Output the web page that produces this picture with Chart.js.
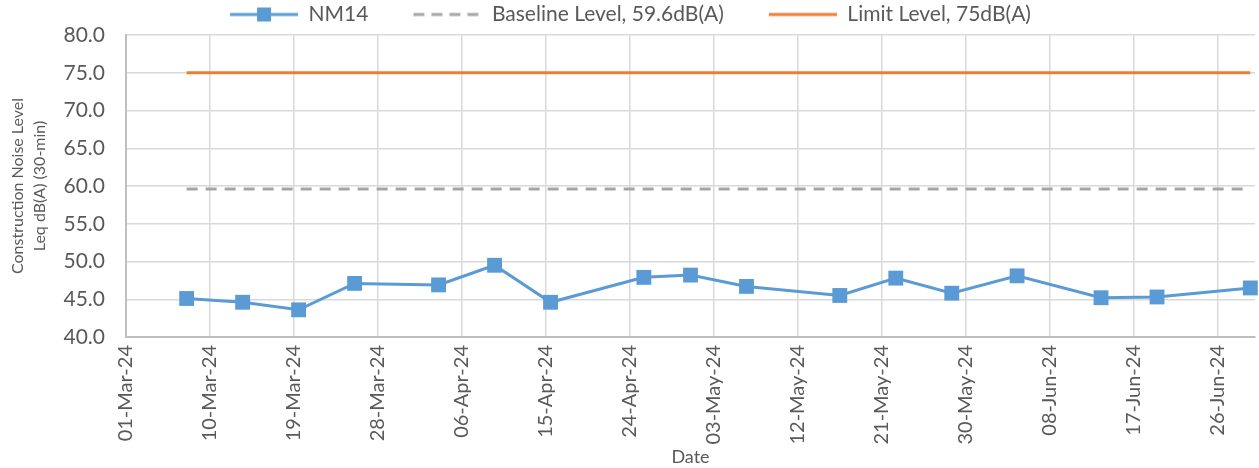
<!DOCTYPE html>
<html>
<head>
<meta charset="utf-8">
<script src="https://cdn.jsdelivr.net/npm/chart.js@4.4.1/dist/chart.umd.min.js"></script>
<style>
  html, body { margin: 0; padding: 0; background: #fff; }
  #wrap { width: 1259px; height: 468px; }
</style>
</head>
<body>
<div id="wrap"><canvas id="chart"></canvas></div>
<script>
// Measurement dates and NM14 readings, Leq dB(A) 30-min
const sampleDates = ['2024-03-07', '2024-03-13', '2024-03-19', '2024-03-25', '2024-04-03', '2024-04-09',
  '2024-04-15', '2024-04-25', '2024-04-30', '2024-05-06', '2024-05-16', '2024-05-22', '2024-05-28',
  '2024-06-04', '2024-06-13', '2024-06-19', '2024-06-29'];
const nm14Values = [45.1, 44.6, 43.6, 47.1, 46.9, 49.5, 44.6, 47.9, 48.2, 46.7, 45.5, 47.8, 45.8,
  48.1, 45.2, 45.3, 46.5];
const baselineLevel = 59.6;
const limitLevel = 75;

// Axis ticks
const xTickLabels = ['01-Mar-24', '10-Mar-24', '19-Mar-24', '28-Mar-24', '06-Apr-24', '15-Apr-24', '24-Apr-24',
  '03-May-24', '12-May-24', '21-May-24', '30-May-24', '08-Jun-24', '17-Jun-24', '26-Jun-24'];
const yTicks = [40, 45, 50, 55, 60, 65, 70, 75, 80];
const axisStart = '2024-03-01';
const axisEnd = '2024-06-30';

const BLUE = '#5b9bd5';
const GREY = '#a5a5a5';
const ORANGE = '#ed7d31';
const TEXT = '#595959';
const MONTHS = ['Jan','Feb','Mar','Apr','May','Jun','Jul','Aug','Sep','Oct','Nov','Dec'];

function dayNum(iso){
  const [y, m, d] = iso.split('-').map(Number);
  return Date.UTC(y, m - 1, d) / 86400000;
}
function labelDay(lbl){
  const [d, mon, yy] = lbl.split('-');
  return Date.UTC(2000 + Number(yy), MONTHS.indexOf(mon), Number(d)) / 86400000;
}
const x0 = dayNum(axisStart);
// Excel date axis puts each point in the middle of its day
const xOf = iso => dayNum(iso) - x0 + 0.5;
const tickMap = {};
xTickLabels.forEach(l => { tickMap[labelDay(l) - x0] = l; });

const firstX = xOf(sampleDates[0]);
const lastX = xOf(sampleDates[sampleDates.length - 1]);

// legend icons (line sample on the right, blank gap on the left as item spacing)
const GAP = 38, SAMPLE = 68;
function makeIcon(color, dash, marker){
  const c = document.createElement('canvas');
  c.width = GAP + SAMPLE; c.height = 18;
  const g = c.getContext('2d');
  g.strokeStyle = color; g.lineWidth = 3;
  g.setLineDash(dash);
  g.beginPath(); g.moveTo(GAP, 9); g.lineTo(GAP + SAMPLE, 9); g.stroke();
  if (marker){ g.fillStyle = color; g.fillRect(GAP + 27, 2, 14, 14); }
  return c;
}
const icons = [makeIcon(BLUE, [], true), makeIcon(GREY, [11, 7], false), makeIcon(ORANGE, [], false)];

// the blank gap before the first icon pushes the legend right; pull it back
const legendShift = {
  id: 'legendShift',
  afterLayout(chart){
    if (chart.legend){ chart.legend.left -= 16; chart.legend.right -= 16; }
  }
};

Chart.defaults.font.family = 'Lato';
Chart.defaults.color = TEXT;

new Chart(document.getElementById('chart'), {
  type: 'line',
  plugins: [legendShift],
  data: {
    datasets: [
      {
        label: 'NM14',
        data: sampleDates.map((d, i) => ({ x: xOf(d), y: nm14Values[i] })),
        borderColor: BLUE,
        backgroundColor: BLUE,
        borderWidth: 3,
        pointStyle: 'rect',
        pointRadius: 10.5,
        pointBorderWidth: 0,
        clip: false,
        order: 0
      },
      {
        label: 'Baseline Level, 59.6dB(A)',
        data: [{ x: firstX, y: baselineLevel }, { x: lastX, y: baselineLevel }],
        borderColor: GREY,
        backgroundColor: GREY,
        borderWidth: 3,
        borderDash: [11, 8],
        pointRadius: 0,
        order: 1
      },
      {
        label: 'Limit Level, 75dB(A)',
        data: [{ x: firstX, y: limitLevel }, { x: lastX, y: limitLevel }],
        borderColor: ORANGE,
        backgroundColor: ORANGE,
        borderWidth: 3,
        pointRadius: 0,
        order: 2
      }
    ]
  },
  options: {
    responsive: true,
    maintainAspectRatio: false,
    animation: false,
    layout: { autoPadding: false, padding: { top: -3, right: 4, left: 0, bottom: 0 } },
    plugins: {
      tooltip: { enabled: false },
      legend: {
        position: 'top',
        labels: {
          usePointStyle: true,
          pointStyleWidth: GAP + SAMPLE,
          padding: 7,
          color: TEXT,
          font: { size: 21 },
          generateLabels(chart){
            const items = Chart.defaults.plugins.legend.labels.generateLabels(chart);
            items.forEach((it, i) => { it.pointStyle = icons[i]; });
            return items;
          }
        }
      }
    },
    scales: {
      x: {
        type: 'linear',
        min: 0,
        max: dayNum(axisEnd) - x0,
        afterBuildTicks(scale){
          scale.ticks = xTickLabels.map(l => ({ value: labelDay(l) - x0 }));
        },
        afterFit(scale){
          scale.height = 131;
          scale.paddingLeft = 0;
          scale.paddingRight = 0;
        },
        ticks: {
          autoSkip: false,
          maxRotation: 90,
          minRotation: 90,
          padding: 8,
          color: TEXT,
          font: { size: 20 },
          callback: v => tickMap[v]
        },
        grid: { color: '#d9d9d9', lineWidth: 1.5, drawTicks: false },
        border: { color: '#bfbfbf', width: 2 },
        title: { display: true, text: 'Date', color: TEXT, font: { size: 18 }, padding: { top: 0, bottom: 0 } }
      },
      y: {
        min: 40,
        max: 80,
        afterBuildTicks(scale){ scale.ticks = yTicks.map(v => ({ value: v })); },
        afterFit(scale){ scale.width = 126; },
        ticks: {
          padding: 21,
          color: TEXT,
          font: { size: 21 },
          callback: v => v.toFixed(1)
        },
        grid: { color: '#d9d9d9', lineWidth: 1.5, drawTicks: false },
        border: { color: '#bfbfbf', width: 2 },
        title: {
          display: true,
          text: ['Construction Noise Level', 'Leq dB(A) (30-min)'],
          color: TEXT,
          font: { size: 16, lineHeight: 1.35 },
          padding: { top: 7, bottom: 0 }
        }
      }
    }
  }
});
</script>
</body>
</html>
